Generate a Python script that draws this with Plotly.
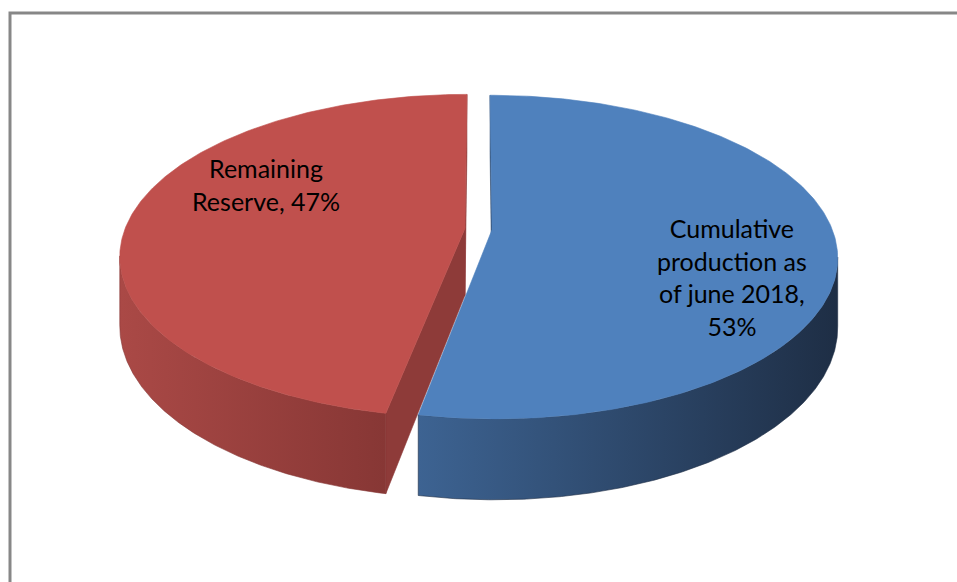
import numpy as np
import plotly.graph_objects as go

# ---- data -------------------------------------------------------------
labels = ["Cumulative production as of june 2018", "Remaining Reserve"]
label_lines = [["Cumulative", "production as", "of june 2018,"], ["Remaining", "Reserve,"]]
values = [53, 47]

# ---- styling ----------------------------------------------------------
top_colors = ["#4F81BD", "#C0504D"]
wall_colors = [["#3D6392", "#1E2E45"], ["#AA4946", "#873735"]]
cut_colors = ["#2F4B70", "#8E3B39"]
label_pos = [(732, 277), (266, 184)]

W, H = 957, 582
CX, CY = 478.5, 229.0      # centre of the un-exploded pie on screen
A, B = 340.0, 157.0        # horizontal / depth scale of the top ellipse
K = 0.17                   # perspective strength
HGT = 67.0                 # thickness of the pie
EXPLODE = 0.04             # slice offset along its bisector (unit radius)
N = 240


def project(x, z, y=0.0):
    d = 1.0 - K * z
    return CX + A * x / d, CY + (B * z + HGT * y) / d


def poly_trace(xs, ys, color=None, gradient=None):
    kw = dict(x=list(xs), y=list(ys), mode="lines", fill="toself",
              line=dict(width=0.6, color=color if color else gradient[1]),
              hoverinfo="skip", showlegend=False)
    if gradient:
        kw["fillgradient"] = dict(type="horizontal",
                                  colorscale=[[0, gradient[0]], [1, gradient[1]]])
    else:
        kw["fillcolor"] = color
    return go.Scatter(**kw)


fig = go.Figure()

total = float(sum(values))
starts = np.cumsum([0] + values[:-1]) / total * 2 * np.pi
ends = np.cumsum(values) / total * 2 * np.pi

# angle range where the outer wall faces the viewer
vis_lo = np.arccos(-K)
vis_hi = 2 * np.pi - vis_lo

# draw back slice (Remaining Reserve) first, then the front one
for i in [1, 0]:
    a0, a1 = starts[i], ends[i]
    mid = 0.5 * (a0 + a1)
    ex, ez = EXPLODE * np.sin(mid), -EXPLODE * np.cos(mid)

    def rim(t, y=0.0):
        return project(ex + np.sin(t), ez - np.cos(t), y)

    # radial cut faces, back first
    faces = []
    for t, sign in [(a0, -1), (a1, 1)]:
        nx, nz = sign * np.cos(t), sign * np.sin(t)
        px, pz = ex + 0.5 * np.sin(t), ez - 0.5 * np.cos(t)
        vx, vz = -px, 1.0 / K - pz
        if nx * vx + nz * vz > 0:
            faces.append((pz, t))
    for _, t in sorted(faces):
        c0 = project(ex, ez, 0)
        r0 = rim(t, 0)
        r1 = rim(t, 1)
        c1 = project(ex, ez, 1)
        fig.add_trace(poly_trace([c0[0], r0[0], r1[0], c1[0], c0[0]],
                                 [c0[1], r0[1], r1[1], c1[1], c0[1]],
                                 color=cut_colors[i]))

    # outer wall
    lo, hi = max(a0, vis_lo), min(a1, vis_hi)
    if hi > lo:
        t = np.linspace(lo, hi, N)
        tx, ty = rim(t, 0)
        bx, by = rim(t[::-1], 1)
        fig.add_trace(poly_trace(np.r_[tx, bx, tx[0]], np.r_[ty, by, ty[0]],
                                 gradient=wall_colors[i]))

    # top face
    t = np.linspace(a0, a1, N)
    rx, ry = rim(t, 0)
    c = project(ex, ez, 0)
    fig.add_trace(poly_trace(np.r_[c[0], rx, c[0]], np.r_[c[1], ry, c[1]],
                             color=top_colors[i]))

# data labels: category name and percentage
for i in range(len(values)):
    pct = round(100 * values[i] / total)
    lines = list(label_lines[i])
    if i == 0:
        lines.append(f"{pct}%")
    else:
        lines[-1] = lines[-1] + f" {pct}%"
    fig.add_annotation(x=label_pos[i][0], y=label_pos[i][1], xref="x", yref="y",
                       text="<br>".join(lines), showarrow=False,
                       xanchor="center", yanchor="middle", align="center",
                       font=dict(family="Lato, Carlito, sans-serif", size=25, color="#000000"))

# chart-area border
fig.add_shape(type="rect", xref="x", yref="y", x0=10, y0=13, x1=W + 20, y1=H + 20,
              line=dict(color="#878787", width=3), fillcolor="rgba(0,0,0,0)", layer="above")

fig.update_xaxes(range=[0, W], visible=False, fixedrange=True)
fig.update_yaxes(range=[H, 0], visible=False, fixedrange=True)
fig.update_layout(width=W, height=H, margin=dict(l=0, r=0, t=0, b=0),
                  paper_bgcolor="white", plot_bgcolor="white", showlegend=False)

fig.write_html("out.html")
